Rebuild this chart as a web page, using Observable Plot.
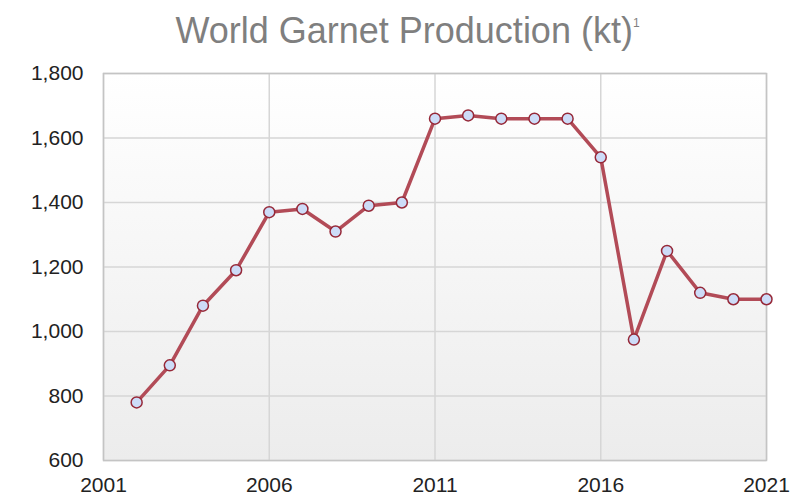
<!DOCTYPE html>
<html>
<head>
<meta charset="utf-8">
<script src="https://cdn.jsdelivr.net/npm/d3@7"></script>
<script src="https://cdn.jsdelivr.net/npm/@observablehq/plot@0.6"></script>
<style>
  html, body { margin: 0; padding: 0; background: #fff; }
  #title { height: 55px; font-family: "Liberation Sans", Arial, sans-serif; font-size: 36px; color: #7f7f7f; text-align: center; line-height: 46px; padding-left: 10px; }
  #title sup { font-size: 12px; vertical-align: 16px; }
</style>
</head>
<body>
<div id="title">World Garnet Production (kt)<sup>1</sup></div>
<div id="chart"></div>
<script>
const years = [2002, 2003, 2004, 2005, 2006, 2007, 2008, 2009, 2010, 2011, 2012, 2013, 2014, 2015, 2016, 2017, 2018, 2019, 2020, 2021];
const production = [780, 895, 1080, 1190, 1370, 1380, 1310, 1390, 1400, 1660, 1670, 1660, 1660, 1660, 1540, 975, 1250, 1120, 1100, 1100];
const xTicks = [2001, 2006, 2011, 2016, 2021];
const yTicks = [600, 800, 1000, 1200, 1400, 1600, 1800];

const data = years.map((y, i) => ({year: y, value: production[i]}));

const chart = Plot.plot({
  width: 805,
  height: 445,
  marginTop: 18,
  marginBottom: 40,
  marginLeft: 103,
  marginRight: 39,
  style: { fontFamily: "Liberation Sans, Arial, sans-serif", fontSize: "21px", color: "#222", background: "transparent" },
  x: { domain: [2001, 2021], ticks: xTicks, tickFormat: "d", tickSize: 0, tickPadding: 18, label: null },
  y: { domain: [600, 1800], ticks: yTicks, tickFormat: d3.format(","), tickSize: 0, tickPadding: 20, label: null },
  marks: [
    Plot.frame({ fill: "url(#bggrad)", stroke: null }),
    Plot.gridY(yTicks, { stroke: "#d6d6d6", strokeOpacity: 1, strokeWidth: 1.5 }),
    Plot.gridX(xTicks, { stroke: "#d6d6d6", strokeOpacity: 1, strokeWidth: 1.5 }),
    Plot.frame({ stroke: "#c4c4c4", strokeWidth: 1.5 }),
    Plot.line(data, { x: "year", y: "value", stroke: "#b24b57", strokeWidth: 3.5 }),
    Plot.dot(data, { x: "year", y: "value", r: 5.5, fill: "#cddcf8", stroke: "#962838", strokeWidth: 1.5 }),
    Plot.axisX({ ticks: xTicks, tickFormat: "d", tickSize: 0, tickPadding: 17, fontSize: 21, fill: "#222" }),
    Plot.axisY({ ticks: yTicks, tickFormat: d3.format(","), tickSize: 0, tickPadding: 20, fontSize: 21, fill: "#222" })
  ]
});

const svg = d3.select(chart);
const defs = svg.insert("defs", ":first-child");
const grad = defs.append("linearGradient").attr("id", "bggrad").attr("x1", 0).attr("y1", 0).attr("x2", 0).attr("y2", 1);
grad.append("stop").attr("offset", "0%").attr("stop-color", "#ffffff");
grad.append("stop").attr("offset", "100%").attr("stop-color", "#ececec");

document.getElementById("chart").appendChild(chart);
</script>
</body>
</html>
